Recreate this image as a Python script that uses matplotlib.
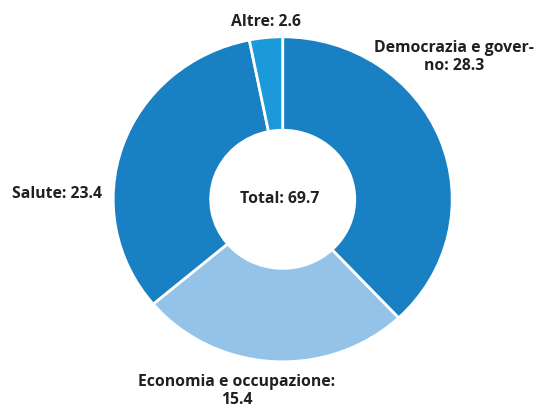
import matplotlib.pyplot as plt

categories = ["Democrazia e gover-\nno", "Economia e occupazione:\n", "Salute", "Altre"]
values = [28.3, 15.4, 23.4, 2.6]
# the arcs in the original are not quite proportional to the printed values
arc_sizes = [26.5, 18.0, 23.0, 2.2]
colors = ["#1a80c4", "#93c3e8", "#1a80c4", "#1a9ad8"]
total = 69.7

plt.rcParams["font.family"] = ["Open Sans", "DejaVu Sans"]

fig = plt.figure(figsize=(5.36, 4.07), dpi=100)
ax = fig.add_axes([0, 0, 1, 1])

ax.pie(arc_sizes, colors=colors, startangle=90, counterclock=False,
       radius=1, wedgeprops=dict(width=0.575, edgecolor="white", linewidth=2))
ax.set_aspect("auto")
# slightly wider than tall, as in the original
cx, cy, rx, ry = 282.7, 199.3, 169.5, 162.5
ax.set_xlim(-cx / rx, (536 - cx) / rx)
ax.set_ylim(-(407 - cy) / ry, cy / ry)
ax.axis("off")

txt = dict(fontsize=11.3, fontweight="bold", color="#231f20",
           ha="center", va="center", linespacing=1.25)


def px(x, y):
    return x / 536, 1 - y / 407


fig.text(*px(454, 57), f"{categories[0]}: {values[0]}", **txt)
fig.text(*px(237, 391), f"{categories[1]}{values[1]}", **txt)
fig.text(*px(57, 194), f"{categories[2]}: {values[2]}", **txt)
fig.text(*px(266, 22), f"{categories[3]}: {values[3]}", **txt)
fig.text(*px(280, 199), f"Total: {total}", **txt)

fig.savefig("out.png", dpi=100)
